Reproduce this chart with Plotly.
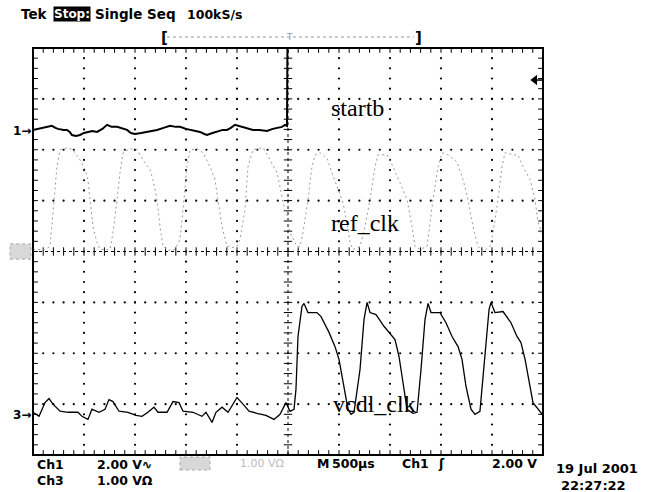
import plotly.graph_objects as go

# ---------------- data (time in microseconds, amplitude in volts) ----------------
# Channel 1: startb (2.00 V/div)
startb_t = [-2500, -2450, -2400, -2360, -2315, -2280, -2255, -2200, -2167, -2140,
            -2118, -2080, -2039, -2000, -1970, -1920, -1872, -1820, -1774, -1730,
            -1676, -1620, -1578, -1540, -1500, -1440, -1382, -1330, -1284, -1220,
            -1157, -1100, -1059, -1000, -961, -910, -863, -820, -794, -740,
            -696, -640, -598, -560, -520, -480, -441, -390, -343, -280,
            -206, -150, -108, -60, -29, -10, 0, 2500]
startb_v = [0.04, 0.08, 0.12, 0.16, 0.20, 0.12, 0.08, 0.04, 0.04, -0.04,
            -0.16, -0.20, -0.16, -0.08, -0.04, 0.00, -0.04, 0.08, 0.24, 0.16,
            0.16, 0.08, 0.04, -0.08, -0.12, -0.08, -0.04, 0.00, 0.04, 0.12,
            0.20, 0.16, 0.16, 0.08, 0.04, 0.00, -0.04, -0.12, -0.16, -0.08,
            -0.04, 0.04, 0.04, 0.12, 0.24, 0.20, 0.16, 0.08, 0.04, 0.04,
            0.00, 0.08, 0.12, 0.16, 0.24, 0.20, 7.0, 7.0]

# Channel 2: ref_clk (1.00 V/div)
ref_t = [-2500, -2382, -2333, -2304, -2265, -2235, -2167, -2108, -2039, -1990,
         -1961, -1941, -1912, -1873, -1843, -1745, -1716, -1676, -1647, -1618,
         -1549, -1480, -1422, -1353, -1324, -1284, -1255, -1225, -1176, -1108,
         -1059, -1029, -990, -961, -892, -833, -765, -716, -686, -647,
         -598, -539, -500, -471, -422, -392, -343, -245, -176, -108,
         -78, -49, -10, 20, 88, 118, 147, 196, 235, 265,
         314, 382, 431, 490, 539, 578, 608, 637, 706, 755,
         804, 853, 882, 971, 1029, 1098, 1167, 1216, 1245, 1294,
         1363, 1422, 1471, 1510, 1569, 1657, 1716, 1765, 1814, 1863,
         1912, 1980, 2010, 2059, 2098, 2127, 2206, 2255, 2304, 2373,
         2422, 2451, 2500]
ref_v = [0.04, 0.04, 0.10, 0.82, 1.67, 2.00, 2.04, 2.00, 1.80, 1.61,
         1.41, 1.02, 0.49, 0.18, 0.04, 0.04, 0.37, 1.02, 1.55, 1.94,
         2.02, 2.00, 1.80, 1.61, 1.41, 1.02, 0.49, 0.10, 0.02, 0.04,
         0.24, 0.82, 1.67, 2.00, 2.02, 1.94, 1.67, 1.41, 1.02, 0.49,
         0.10, 0.08, 0.10, 0.24, 0.82, 1.67, 2.00, 2.04, 1.80, 1.55,
         1.27, 0.96, 0.73, 0.37, 0.10, 0.10, 0.37, 1.02, 1.67, 1.90,
         1.94, 1.84, 1.55, 1.22, 0.96, 0.57, 0.18, 0.04, 0.10, 0.49,
         1.02, 1.67, 1.90, 1.90, 1.67, 1.35, 1.02, 0.49, 0.10, 0.04,
         0.10, 1.02, 1.67, 1.94, 1.90, 1.76, 1.41, 1.02, 0.49, 0.10,
         0.00, 0.10, 0.37, 1.02, 1.67, 1.94, 1.90, 1.90, 1.67, 1.41,
         1.02, 0.57, 0.33]

# Channel 3: vcdl_clk (1.00 V/div)
vcdl_t = [-2500, -2441, -2382, -2343, -2304, -2235, -2157, -2059, -2020, -1961,
          -1922, -1853, -1794, -1755, -1716, -1657, -1569, -1490, -1431, -1373,
          -1314, -1275, -1186, -1127, -1069, -1029, -931, -843, -804, -745,
          -706, -647, -588, -500, -441, -382, -304, -216, -137, -78,
          -20, 20, 59, 78, 98, 137, 157, 196, 284, 324,
          402, 461, 500, 539, 588, 618, 647, 706, 745, 775,
          804, 863, 941, 1049, 1088, 1127, 1167, 1225, 1265, 1304,
          1343, 1373, 1402, 1490, 1549, 1608, 1667, 1706, 1745, 1794,
          1833, 1882, 1931, 1971, 1990, 2029, 2108, 2186, 2245, 2284,
          2324, 2363, 2402, 2500]
vcdl_v = [0.06, -0.02, 0.25, 0.33, 0.22, 0.08, 0.06, 0.06, -0.02, -0.08,
          0.12, 0.06, 0.12, 0.31, 0.27, 0.08, 0.06, 0.00, -0.02, 0.06,
          0.16, 0.06, 0.06, 0.27, 0.25, 0.08, 0.06, -0.02, 0.06, -0.14,
          0.06, 0.16, 0.06, 0.35, 0.22, 0.08, 0.04, 0.00, -0.08, 0.02,
          0.25, 0.08, 0.12, 0.51, 1.55, 2.14, 2.20, 2.02, 2.02, 1.94,
          1.63, 1.35, 1.10, 0.65, 0.12, 0.02, 0.06, 0.90, 1.88, 2.22,
          2.02, 1.98, 1.75, 1.49, 1.16, 0.65, 0.12, 0.04, 0.06, 0.90,
          1.88, 2.20, 2.02, 2.02, 1.82, 1.55, 1.35, 1.10, 0.57, 0.12,
          0.02, 0.08, 1.24, 2.08, 2.22, 2.02, 2.04, 1.82, 1.55, 1.43,
          1.10, 0.65, 0.25, 0.00]

# channel settings: volts per division and ground-marker position (divisions from centre)
ch1_scale, ch1_pos = 2.00, 2.37
ch2_scale, ch2_pos = 1.00, 0.0
ch3_scale, ch3_pos = 1.00, -3.22
trig_level = 2.00          # volts on Ch1
time_per_div = 500         # microseconds

# ---------------- figure ----------------
W, H = 646, 492
L, R, T, B = 33, 543, 48, 455
def px(x):
    return (x - L) / (R - L)
def py(y):
    return (B - y) / (B - T)

t0 = -5 * time_per_div
t1 = 5 * time_per_div

fig = go.Figure()

# grid dots (1/5 division spacing along each major grid line)
gx, gy = [], []
for k in range(1, 10):
    if k == 5:
        continue
    t = t0 + k * time_per_div
    for j in range(1, 40):
        gx.append(t); gy.append(-4 + j * 0.2)
for k in range(1, 8):
    if k == 4:
        continue
    yv = -4 + k
    for j in range(1, 50):
        gx.append(t0 + j * time_per_div / 5); gy.append(yv)
fig.add_trace(go.Scatter(x=gx, y=gy, mode="markers",
                         marker=dict(size=2.2, color="black", line=dict(width=0)),
                         hoverinfo="skip"))

# centre cross lines (dense dotted) with tick marks
fig.add_trace(go.Scatter(x=[t0, t1], y=[0, 0], mode="lines",
                         line=dict(color="black", width=1, dash="dot"), hoverinfo="skip"))
fig.add_trace(go.Scatter(x=[0, 0], y=[-4, 4], mode="lines",
                         line=dict(color="black", width=1, dash="dot"), hoverinfo="skip"))
fig.add_trace(go.Scatter(x=[t0 + j * time_per_div / 5 for j in range(1, 50)], y=[0] * 49,
                         mode="markers",
                         marker=dict(symbol="line-ns", size=6, line=dict(width=1, color="black")),
                         hoverinfo="skip"))
fig.add_trace(go.Scatter(x=[0] * 39, y=[-4 + j * 0.2 for j in range(1, 40)],
                         mode="markers",
                         marker=dict(symbol="line-ew", size=6, line=dict(width=1, color="black")),
                         hoverinfo="skip"))

# frame ticks (pointing inward)
dt = 2 * 500 / 51.0
dv = 2 / 51.0
tick_t = [t0 + j * time_per_div / 5 for j in range(1, 50)]
tick_v = [-4 + j * 0.2 for j in range(1, 40)]
fig.add_trace(go.Scatter(x=tick_t + tick_t, y=[4 - dv] * 49 + [-4 + dv] * 49, mode="markers",
                         marker=dict(symbol="line-ns", size=4, line=dict(width=1, color="black")),
                         hoverinfo="skip"))
fig.add_trace(go.Scatter(x=[t0 + dt] * 39 + [t1 - dt] * 39, y=tick_v + tick_v, mode="markers",
                         marker=dict(symbol="line-ew", size=4, line=dict(width=1, color="black")),
                         hoverinfo="skip"))

# waveforms
fig.add_trace(go.Scatter(x=ref_t, y=[ch2_pos + v / ch2_scale for v in ref_v], mode="lines",
                         line=dict(color="#9a9a9a", width=1, dash="2px,3px"), hoverinfo="skip"))
fig.add_trace(go.Scatter(x=vcdl_t, y=[ch3_pos + v / ch3_scale for v in vcdl_v], mode="lines",
                         line=dict(color="black", width=1.3), hoverinfo="skip"))
fig.add_trace(go.Scatter(x=startb_t, y=[ch1_pos + v / ch1_scale for v in startb_v], mode="lines",
                         line=dict(color="black", width=2), hoverinfo="skip"))

# trigger level arrow (right edge)
ty = ch1_pos + trig_level / ch1_scale
fig.add_trace(go.Scatter(x=[t1 - 70, t1], y=[ty, ty], mode="lines",
                         line=dict(color="black", width=1.5), hoverinfo="skip"))
fig.add_trace(go.Scatter(x=[t1 - 80], y=[ty], mode="markers",
                         marker=dict(symbol="triangle-left", size=9, color="black"),
                         hoverinfo="skip", cliponaxis=False))

shapes = [
    dict(type="rect", xref="paper", yref="paper", x0=0, x1=1, y0=0, y1=1,
         line=dict(color="black", width=2)),
    # record view bar
    dict(type="line", xref="paper", yref="paper", x0=px(167), x1=px(414), y0=py(37), y1=py(37),
         line=dict(color="#9a9a9a", width=1, dash="dot")),
    # ch2 ground marker (dimmed)
    dict(type="rect", xref="paper", yref="y", x0=px(10), x1=px(31), y0=ch2_pos - 0.15, y1=ch2_pos + 0.15,
         fillcolor="#d8d8d8", line=dict(color="#aaaaaa", width=1, dash="dot")),
    # dimmed ch2 readout box
    dict(type="rect", xref="paper", yref="paper", x0=px(180), x1=px(210), y0=py(470), y1=py(457),
         fillcolor="#d8d8d8", line=dict(color="#aaaaaa", width=1, dash="dot")),
]

sans = "DejaVu Sans, Liberation Sans"
serif = "Liberation Serif, DejaVu Serif"

def ann(text, x, y, size=13, family=sans, color="black", xanchor="left", bg=None, yref="paper",
        yanchor="middle"):
    d = dict(text=text, x=px(x), y=(py(y) if yref == "paper" else y), xref="paper", yref=yref,
             showarrow=False, xanchor=xanchor, yanchor=yanchor, align="left",
             font=dict(size=size, family=family, color=color))
    if bg:
        d["bgcolor"] = bg
        d["borderpad"] = 0
    return d

annotations = [
    ann("<b>Tek</b>", 19, 14, size=13.5),
    ann("<b>Stop:</b>", 53, 14, size=12, color="white", bg="black"),
    ann("<b>Single Seq</b>", 93, 14, size=13.5),
    ann("<b>100kS/s</b>", 185, 14, size=12.5),
    ann("<b>[</b>", 159, 38, size=15),
    ann("<b>]</b>", 413, 38, size=15),
    ann("<span style='color:#9a9a9a'>T</span>", 289, 37, size=9, xanchor="center"),
    ann("startb", 329, 108, size=24, family=serif),
    ann("ref_clk", 329, 223, size=24, family=serif),
    ann("vcdl_clk", 331, 404, size=24, family=serif),
    ann("<b>1→</b>", 11, ch1_pos, size=12, yref="y"),
    ann("<b>3→</b>", 11, ch3_pos, size=12, yref="y"),
    # bottom readout, two rows
    ann("<b>Ch1</b><br><b>Ch3</b>", 35, 455, size=12.5, yanchor="top"),
    ann("<b>2.00 V∿</b><br><b>1.00 VΩ</b>", 95, 455, size=12.5, yanchor="top"),
    ann("1.00 VΩ", 238, 463, size=11, color="#bdbdbd"),
    ann("<b>M</b>", 315, 463, size=12.5),
    ann("<b>500µs</b>", 330, 463, size=12.5),
    ann("<b>Ch1</b>", 400, 463, size=12.5),
    ann("<b>ʃ</b>", 436, 463, size=12.5),
    ann("<b>2.00 V</b>", 539, 463, size=12.5, xanchor="right"),
    ann("<b>19 Jul 2001</b>", 554, 468, size=13),
    ann("<b>22:27:22</b>", 559, 485, size=13),
]

fig.update_layout(
    width=W, height=H,
    margin=dict(l=L, r=W - R, t=T, b=H - B),
    paper_bgcolor="white", plot_bgcolor="white",
    showlegend=False, hovermode=False,
    xaxis=dict(range=[t0, t1], showgrid=False, zeroline=False, showticklabels=False,
               ticks="", showline=False, fixedrange=True),
    yaxis=dict(range=[-4, 4], showgrid=False, zeroline=False, showticklabels=False,
               ticks="", showline=False, fixedrange=True),
    shapes=shapes, annotations=annotations,
)

fig.write_html("out.html", config={"displayModeBar": False},
               post_script="document.body.style.margin='0';document.body.style.overflow='hidden';")
